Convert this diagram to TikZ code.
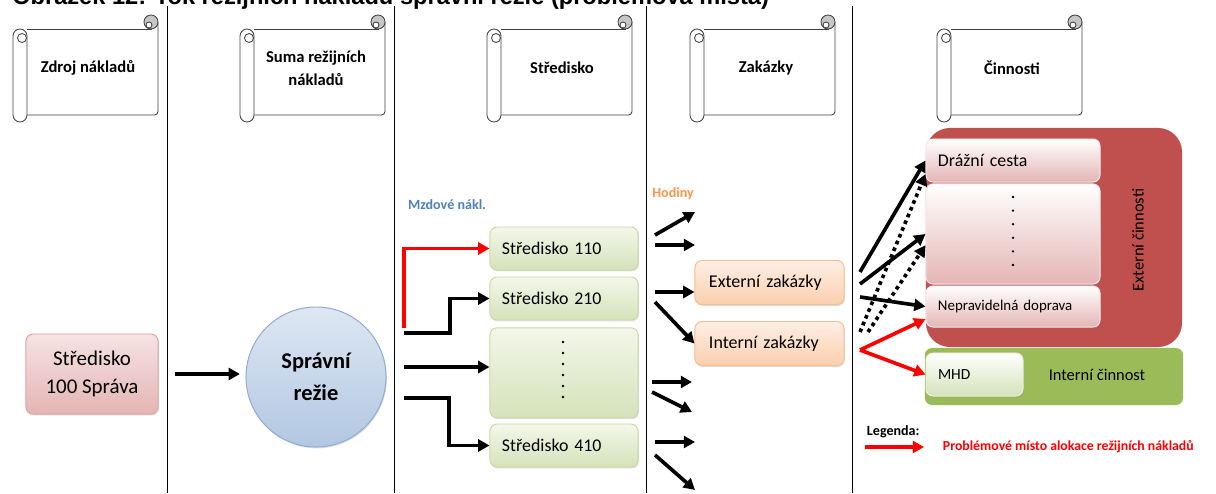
\documentclass[tikz,border=0pt]{standalone}
\usepackage{fontspec}
\setmainfont{Carlito}
\newfontfamily\titlefont{Liberation Sans}
\usepackage{tikz}
\usetikzlibrary{arrows.meta,positioning,shadows}

\definecolor{pinktop}{HTML}{F6E3E3}
\definecolor{pinkbot}{HTML}{E4B5B4}
\definecolor{pinkline}{HTML}{E4A2A0}
\definecolor{greentop}{HTML}{F3F7EA}
\definecolor{greenbot}{HTML}{D5E2BA}
\definecolor{greenline}{HTML}{C9DAA6}
\definecolor{orangetop}{HTML}{FEEFE4}
\definecolor{orangebot}{HTML}{FACFAE}
\definecolor{orangeline}{HTML}{F8BE8F}
\definecolor{bluetop}{HTML}{DEE7F3}
\definecolor{bluebot}{HTML}{B2C7E2}
\definecolor{blueline}{HTML}{8FABD3}
\definecolor{extred}{HTML}{C0504D}
\definecolor{intgreen}{HTML}{9BBB59}
\definecolor{mzdblue}{HTML}{4F81BD}
\definecolor{hodorange}{HTML}{F79646}
\definecolor{scrollline}{HTML}{404040}

\tikzset{
  pics/scrollbox/.style={code={
    \fill[white] (7,14) rectangle (145,100);
    \draw[sc,rounded corners=2.5pt] (145,7) -- (145,100) -- (14,100);
    \draw[sc] (14,14) -- (138,14) -- (138,7);
    \draw[sc,fill=gray!45] (138,7) circle[radius=7];
    \draw[sc,fill=white] (136,10) circle[radius=3];
    \draw[sc,fill=white,rounded corners=5pt] (0,14) rectangle (14,107);
    \draw[sc] (9,23) circle[radius=4.5];
  }}
}

\begin{document}
\begin{tikzpicture}[
  x=0.025cm, y=-0.025cm,
  sc/.style={draw=scrollline,line width=0.6pt},
  sepline/.style={line width=0.7pt,black},
  hd/.style={font=\fontsize{11.8}{16.5}\selectfont\bfseries,align=center},
  card/.style={draw,rectangle,rounded corners=5pt,line width=0.7pt,
    drop shadow={opacity=0.25,shadow xshift=0.6pt,shadow yshift=-1pt}},
  srcbox/.style={card,draw=pinkline,top color=pinktop,bottom color=pinkbot,
    minimum width=3.3cm,minimum height=2cm,align=center,
    font=\fontsize{14.9}{20}\selectfont},
  ovh/.style={circle,draw=blueline,top color=bluetop,bottom color=bluebot,
    line width=0.7pt,minimum size=3.5cm,align=center,
    font=\fontsize{16}{23}\selectfont\bfseries,
    drop shadow={opacity=0.25,shadow xshift=0.6pt,shadow yshift=-1pt}},
  ctr/.style={card,draw=greenline,top color=greentop,bottom color=greenbot,
    minimum height=1.075cm,text width=3.1cm,inner xsep=0.3cm,align=left,
    font=\fontsize{12.7}{15}\selectfont},
  job/.style={card,draw=orangeline,top color=orangetop,bottom color=orangebot,
    minimum height=1.1cm,text width=3.025cm,inner xsep=0.35cm,align=left,
    font=\fontsize{12.8}{15}\selectfont},
  act/.style={card,draw=white!75!pinkline,top color=white,bottom color=pinkbot,
    minimum height=1.075cm,text width=4.05cm,inner xsep=0.3cm,align=left,
    font=\fontsize{12.7}{15}\selectfont},
  arr/.style={-{Triangle[length=8pt,width=8.5pt]},line width=2.6pt,black},
  redarr/.style={arr,red},
  dotarr/.style={arr,dash pattern=on 2.6pt off 2.6pt},
  note/.style={font=\fontsize{10}{12}\selectfont\bfseries}
]
\useasboundingbox (0,0) rectangle (1216,493);

% title, cut off at the top
\begin{scope}
  \clip (0,0) rectangle (1216,493);
  \node[anchor=base west,inner sep=0pt,font=\titlefont\bfseries\fontsize{16.8}{20}\selectfont]
    (title) at (12,4) {Obrázek 12: Tok režijních nákladů správní režie (problémová místa)};
\end{scope}

% columns
\foreach \sx in {167,394,646,852}
  \draw[sepline] (\sx,6) -- (\sx,493);

% headers
\pic at (13,15) {scrollbox};
\pic at (240,15) {scrollbox};
\pic at (487,15) {scrollbox};
\pic at (690,15) {scrollbox};
\pic at (937,15) {scrollbox};
\node[hd] (hZdroj) at (88,68) {Zdroj nákladů};
\node[hd] (hSuma) at (316,68) {Suma režijních\\nákladů};
\node[hd] (hStred) at (562,68) {Středisko};
\node[hd] (hZak) at (766,68) {Zakázky};
\node[hd] (hCinn) at (1012,68) {Činnosti};

% source and overhead
\node[srcbox] (s100) at (92,374) {Středisko\\100 Správa};
\node[ovh] (rezie) at (316,377) {Správní\\režie};
\draw[arr,shorten <=12pt,shorten >=4pt] (s100.east) -- (s100.east -| rezie.west);

% cost centres
\node[note,text=mzdblue] (mzd) at (447,205) {Mzdové nákl.};
\node[ctr] (s110) at (564,248.5) {Středisko 110};
\node[ctr,below=0.15cm of s110] (s210) {Středisko 210};
\node[ctr,minimum height=2.25cm,below=0.17cm of s210] (sdots) {};
\node[ctr,below=0.13cm of sdots] (s410) {Středisko 410};
\foreach \k in {0,...,5}
  \fill (563,{342+11*\k}) circle[radius=1.3];

\coordinate (m1) at (404,328);
\coordinate (m2) at (404,333);
\coordinate (m3) at (404,367);
\coordinate (m4) at (404,398);
\draw[redarr] (m1) |- (s110.west);
\draw[arr] (m2) -- ++(46,0) |- (s210.west);
\draw[arr] (m3) -- (m3 -| sdots.west);
\draw[arr] (m4) -- ++(45,0) |- (s410.west);

% orders
\node[note,text=hodorange] (hod) at (673,194) {Hodiny};
\node[job] (zExt) at (769.5,282.5) {Externí zakázky};
\node[job] (zInt) at (769.5,343.5) {Interní zakázky};
\foreach \i/\xa/\ya/\xb/\yb in {1/655/235/695/212, 2/655/245/695/245,
    5/652/382/692/382, 6/652/392/692/412, 7/655/442/695/442, 8/655/455/695/490} {
  \coordinate (za\i) at (\xa,\ya);
  \coordinate (zb\i) at (\xb,\yb);
  \draw[arr] (za\i) -- (zb\i);
}
\coordinate (za3) at (655,292);
\coordinate (za4) at (655,302);
\draw[arr] (za3) -- (za3 -| zExt.west);
\draw[arr] (za4) -- (zInt.west);

% activities
\node[fill=extred,rounded corners=0.6cm,minimum width=6.4cm,minimum height=5.475cm,
  inner sep=0pt] (extAct) at (1054,237.5) {};
\node[rotate=90,font=\fontsize{11.7}{14}\selectfont] (extLbl) at (1138,240) {Externí činnosti};
\node[act,text width=3.75cm] (drazni) at (1013,160.5) {Drážní cesta};
\node[act,text width=3.75cm,minimum height=2.5cm] (cdots) at (1013,234) {};
\node[act,text width=3.75cm,minimum height=1.025cm,font=\fontsize{10.6}{13}\selectfont]
  (neprav) at (1013,306.5) {Nepravidelná doprava};
\foreach \k in {0,...,5}
  \fill (1013,{197+13.6*\k}) circle[radius=1.3];

\node[fill=intgreen,rounded corners=5pt,minimum width=6.45cm,minimum height=1.425cm,
  inner sep=0pt] (intAct) at (1054,376.5) {};
\node[card,draw=white!60!greenline,top color=white,bottom color=greenbot,
  minimum height=1.075cm,text width=1.825cm,inner xsep=0.3cm,align=left,
  font=\fontsize{11}{13}\selectfont] (mhd) at (974.5,374.5) {MHD};
\node[font=\fontsize{11.7}{14}\selectfont] (intLbl) at (1097,375) {Interní činnost};

\coordinate (c1) at (860,272);
\coordinate (c2) at (860,284);
\coordinate (c3) at (860,297);
\coordinate (c4) at (860,332);
\coordinate (c5) at (868,332);
\coordinate (c6) at (860,350);
\draw[arr] (c1) -- (drazni.west);
\draw[arr] (c2) -- (cdots.west);
\draw[arr] (c3) -- (neprav.west);
\draw[dotarr] (c4) -- ([yshift=6pt]drazni.south west);
\draw[dotarr] (c5) -- ([yshift=-8pt]cdots.west);
\draw[redarr] (c6) -- ([yshift=6pt]neprav.south west);
\draw[redarr] (c6) -- (mhd.west);

% legend
\node[note,anchor=west] (leg) at (862,432) {Legenda:};
\coordinate (legA) at (865,447);
\coordinate (legB) at (924,447);
\draw[redarr] (legA) -- (legB);
\node[note,anchor=west,text=red,font=\fontsize{9.8}{12}\selectfont\bfseries]
  (legtxt) at (938,447) {Problémové místo alokace režijních nákladů};

\end{tikzpicture}
\end{document}
